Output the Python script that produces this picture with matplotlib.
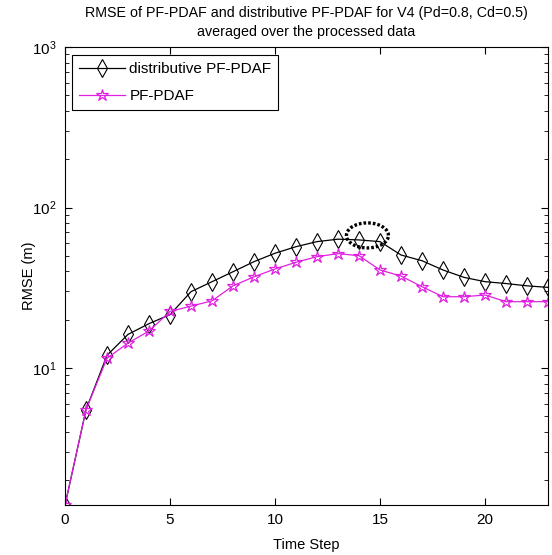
import numpy as np
import matplotlib
matplotlib.use('Agg')
import matplotlib.pyplot as plt

plt.rcParams['font.family'] = ['Liberation Sans', 'DejaVu Sans']
plt.rcParams['mathtext.fontset'] = 'custom'
plt.rcParams['mathtext.rm'] = 'Liberation Sans'

# RMSE per time step, averaged over the processed data
time_step = list(range(24))
rmse_dist = [1.4, 5.5, 12.0, 16.2, 18.9, 21.5, 29.9, 34.5, 39.8, 46.0, 51.9, 57.0,
             61.3, 63.5, 62.8, 61.3, 50.6, 46.6, 40.8, 36.7, 34.5, 33.6, 32.5, 31.8]
rmse_pf = [1.4, 5.5, 11.5, 14.3, 17.0, 22.5, 24.3, 26.2, 32.5, 37.0, 41.4, 45.6,
           49.4, 51.6, 50.1, 40.8, 37.4, 32.1, 27.8, 27.8, 28.5, 25.9, 25.9, 25.9]

# highlighted region (centre and half-widths, x in steps, y in decades)
mark_x, mark_y = 14.4, 67.0
mark_dx, mark_dlog = 1.0, 0.078

fig = plt.figure(figsize=(5.52, 5.55), dpi=100)
ax = fig.add_axes([0.1178, 0.09, 0.875, 0.8253])

ax.semilogy(time_step, rmse_dist, '-', color='black', lw=0.9, marker='d',
            ms=9, mfc='none', mec='black', mew=0.8, label='distributive PF-PDAF')
ax.semilogy(time_step, rmse_pf, '-', color='#e020e0', lw=0.9, marker='*',
            ms=9, mfc='none', mec='#e020e0', mew=0.9, label='PF-PDAF')

t = np.linspace(0, 2 * np.pi, 200)
ax.plot(mark_x + mark_dx * np.cos(t),
        10 ** (np.log10(mark_y) + mark_dlog * np.sin(t)),
        color='black', lw=2.4, ls=(0, (0.8, 0.6)))

ax.set_xlim(0, 23)
ax.set_ylim(1.4, 1000)
ax.set_xticks([0, 5, 10, 15, 20])
ax.tick_params(which='both', direction='in', top=True, right=True, labelsize=11)
ax.tick_params(axis='x', pad=6)
ax.tick_params(axis='y', pad=6)
ax.tick_params(which='major', length=5)
ax.tick_params(which='minor', length=3)
for s in ax.spines.values():
    s.set_linewidth(0.8)

ax.set_xlabel('Time Step', fontsize=10.5, labelpad=8)
ax.set_ylabel('RMSE (m)', fontsize=10.5, labelpad=-3)
ax.set_title('RMSE of PF-PDAF and distributive PF-PDAF for V4 (Pd=0.8, Cd=0.5)\n'
             'averaged over the processed data', fontsize=10.3, linespacing=1.45, pad=8)

leg = ax.legend(loc='upper left', bbox_to_anchor=(0.0145, 0.9825), borderaxespad=0,
                fontsize=11, fancybox=False, edgecolor='black', framealpha=1,
                handlelength=3.0, borderpad=0.45, labelspacing=0.85, handletextpad=0.3)
leg.get_frame().set_linewidth(0.8)

fig.savefig('out.png', dpi=100)
